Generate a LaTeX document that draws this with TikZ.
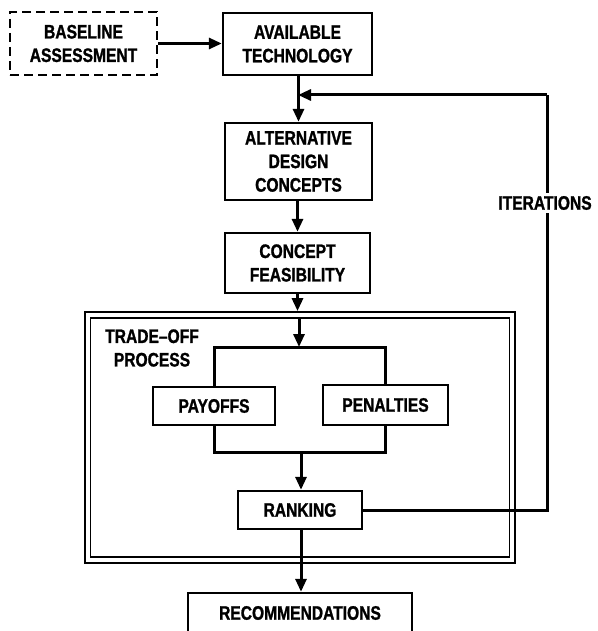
\documentclass[tikz,border=0pt]{standalone}
\usepackage{fontspec}
\setmainfont{Liberation Sans}[FakeStretch=0.8, FakeBold=1.2]
\usetikzlibrary{arrows.meta}
\begin{document}
\begin{tikzpicture}[x=1pt,y=-1pt,
  lbl/.style={font=\bfseries\fontsize{19.5}{23.5}\selectfont, align=center},
  box/.style={lbl, draw, line width=2.4pt, inner sep=0pt, anchor=center},
  dashbox/.style={box, dash pattern=on 9pt off 5pt},
  conn/.style={line width=3pt},
  arr/.style={conn, -{Triangle[length=13pt,width=11pt]}},
  frameline/.style={draw, line width=1.8pt, inner sep=0pt}]
\useasboundingbox[fill=white] (0,0) rectangle (597,631);

% upper chain
\node[dashbox, minimum width=147pt, minimum height=63pt] (base) at (83.5,43.5) {BASELINE\\ASSESSMENT};
\node[box, minimum width=149pt, minimum height=62pt] (avail) at (297.5,44) {AVAILABLE\\TECHNOLOGY};
\node[box, minimum width=147pt, minimum height=77pt] (alt) at (298.5,161.5) {ALTERNATIVE\\DESIGN\\CONCEPTS};
\node[box, minimum width=145pt, minimum height=60pt] (feas) at (297.5,263) {CONCEPT\\FEASIBILITY};

% trade-off frame (double rule)
\node[frameline, minimum width=430pt, minimum height=251pt] (outer) at (300,437.5) {};
\node[frameline, minimum width=419pt, minimum height=239pt] (inner) at (300,437.5) {};
\node[lbl] (trade) at (152,348) {TRADE--OFF\\PROCESS};

\node[box, minimum width=122pt, minimum height=38pt] (pay) at (214,406) {PAYOFFS};
\node[box, minimum width=125pt, minimum height=40pt] (pen) at (385.5,405) {PENALTIES};
\node[box, minimum width=124pt, minimum height=38pt] (rank) at (300,510) {RANKING};
\node[box, minimum width=224pt, minimum height=40pt] (rec) at (300,613) {RECOMMENDATIONS};

\coordinate (split) at (299,347);
\coordinate (join) at (301,452);
\coordinate (loopturn) at (547,95);
\coordinate (loopin) at (298,95);

% connectors
\draw[arr] (base.east) -- (avail.west |- base.east);
\draw[arr] (avail.south -| alt.north) -- (alt.north);
\draw[arr] (alt.south -| feas.north) -- (feas.north);
\draw[arr] (feas.south) -- (feas.south |- outer.north);
\draw[arr] (inner.north -| split) -- (split);
\draw[conn] (pay.north) |- (split) -| (pen.north);
\draw[conn] (pay.south) |- (join) -| (pen.south);
\draw[arr] (join) -- (rank.north -| join);
\draw[arr] (rank.south -| join) -- (rec.north -| join);

% iteration loop
\draw[conn] (rank.east) -| (loopturn);
\draw[arr] (loopturn) -- (loopin);
\node[lbl, fill=white, inner sep=3pt] (iter) at (545,203) {ITERATIONS};
\end{tikzpicture}
\end{document}
